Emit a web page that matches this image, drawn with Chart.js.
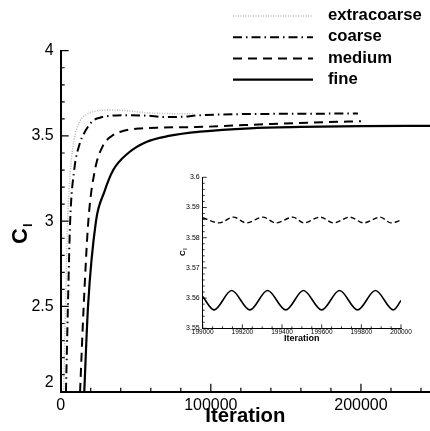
<!DOCTYPE html>
<html>
<head>
<meta charset="UTF-8">
<title>Cl convergence</title>
<script src="https://cdn.jsdelivr.net/npm/chart.js"></script>
<style>
  html, body { margin: 0; padding: 0; background: #fff; }
  #wrap { position: relative; width: 430px; height: 431px; }
  #main { position: absolute; left: 0; top: 0; }
  #inset { position: absolute; left: 170px; top: 170px; }
</style>
</head>
<body>
<div id="wrap">
  <canvas id="main" width="430" height="431"></canvas>
  <canvas id="inset" width="255" height="175"></canvas>
</div>
<script>
// main plot, Cl against iteration for each grid
const extraIter  = [2000, 3200, 4600, 6500, 9000, 12500, 17000, 22000, 28000, 35000, 44000, 57000, 72000, 88000];
const extraCl    = [2.0, 2.5, 3.0, 3.3, 3.48, 3.58, 3.625, 3.643, 3.651, 3.652, 3.648, 3.636, 3.631, 3.63];
const coarseIter = [3500, 4800, 6300, 9000, 12500, 16500, 21000, 26000, 33000, 43000, 57000, 70000, 80000, 91000, 120000, 160000, 198000];
const coarseCl   = [2.0, 2.5, 3.0, 3.3, 3.45, 3.53, 3.585, 3.607, 3.618, 3.622, 3.619, 3.611, 3.612, 3.62, 3.628, 3.63, 3.632];
const mediumIter = [12900, 15300, 18400, 22800, 28000, 34000, 42000, 52000, 65000, 90000, 115000, 137000, 165000, 200000];
const mediumCl   = [2.0, 2.5, 3.0, 3.3, 3.44, 3.5, 3.53, 3.543, 3.549, 3.552, 3.561, 3.569, 3.578, 3.586];
const fineIter   = [15700, 18200, 23500, 29000, 35000, 45000, 57000, 72000, 93000, 126000, 160000, 200000, 246000];
const fineCl     = [2.0, 2.5, 3.0, 3.17, 3.3, 3.4, 3.465, 3.5, 3.525, 3.545, 3.553, 3.558, 3.559];
const mainXTicks = [0, 100000, 200000];
const mainYTicks = [2, 2.5, 3, 3.5, 4];

// inset, last 1000 iterations (peaks and troughs)
const insetFineIter = [199000, 199057, 199146, 199238, 199327, 199419, 199508, 199600, 199690, 199781, 199871, 199962, 200000];
const insetFineCl   = [3.5605, 3.5561, 3.5625, 3.5561, 3.5625, 3.5561, 3.5625, 3.5561, 3.5625, 3.5561, 3.5625, 3.5561, 3.5592];
const insetMedIter  = [199000, 199083, 199154, 199221, 199303, 199369, 199455, 199510, 199592, 199660, 199741, 199812, 199895, 199950, 200000];
const insetMedCl    = [3.5866, 3.5849, 3.5868, 3.5849, 3.5868, 3.5849, 3.5868, 3.5849, 3.5868, 3.5849, 3.5868, 3.5849, 3.5868, 3.5849, 3.5858];
const insetXTicks = [199000, 199200, 199400, 199600, 199800, 200000];
const insetYTicks = [3.55, 3.56, 3.57, 3.58, 3.59, 3.6];

const gridNames = ['extracoarse', 'coarse', 'medium', 'fine'];

const FONT = "'Liberation Sans', Arial, Helvetica, sans-serif";
const pts = (xs, ys) => xs.map((x, i) => ({x: x, y: ys[i]}));
const setTicks = vals => s => { s.ticks = vals.map(v => ({value: v})); };

// tecplot style ticks pointing into the plot
const inwardTicks = {
  id: 'inwardTicks',
  afterDraw(chart, args, o) {
    const {ctx, chartArea: a, scales: {x, y}} = chart;
    ctx.save();
    ctx.strokeStyle = '#000';
    ctx.lineWidth = o.width;
    ctx.beginPath();
    let n = Math.floor((x.max - x.min) / o.xMinor + 1e-6);
    for (let i = 0; i <= n; i++) {
      const px = x.getPixelForValue(x.min + i * o.xMinor);
      const len = i % o.xRatio === 0 ? o.major : o.minor;
      ctx.moveTo(px, a.bottom);
      ctx.lineTo(px, a.bottom - len);
    }
    n = Math.round((y.max - y.min) / o.yMinor);
    for (let i = 0; i <= n; i++) {
      const py = y.getPixelForValue(y.min + i * o.yMinor);
      const len = i % o.yRatio === 0 ? o.major : o.minor;
      ctx.moveTo(a.left, py);
      ctx.lineTo(a.left + len, py);
    }
    ctx.stroke();
    ctx.restore();
  }
};

// C with subscript l, rotated
const clTitle = {
  id: 'clTitle',
  afterDraw(chart, args, o) {
    const ctx = chart.ctx;
    ctx.save();
    ctx.translate(o.x, o.y);
    ctx.rotate(-Math.PI / 2);
    ctx.fillStyle = '#000';
    ctx.textBaseline = 'middle';
    ctx.textAlign = 'center';
    ctx.font = 'bold ' + o.size + 'px ' + FONT;
    const w = ctx.measureText('C').width;
    ctx.fillText('C', 0, 0);
    ctx.textAlign = 'left';
    ctx.font = 'bold ' + o.sub + 'px ' + FONT;
    ctx.fillText('l', w / 2 + o.size * 0.05, o.size * 0.35);
    ctx.restore();
  }
};

// legend drawn over the top right corner
const lineLegend = {
  id: 'lineLegend',
  afterDraw(chart, args, o) {
    const ctx = chart.ctx;
    ctx.save();
    chart.data.datasets.forEach((ds, i) => {
      const y = o.y0 + i * o.dy;
      ctx.strokeStyle = ds.borderColor;
      ctx.lineWidth = ds.borderWidth;
      ctx.setLineDash(ds.borderDash || []);
      ctx.beginPath();
      ctx.moveTo(o.x1, y + 0.5);
      ctx.lineTo(o.x2, y + 0.5);
      ctx.stroke();
      ctx.setLineDash([]);
      ctx.fillStyle = '#000';
      ctx.font = 'bold ' + o.size + 'px ' + FONT;
      ctx.textBaseline = 'middle';
      ctx.textAlign = 'left';
      ctx.fillText(ds.label, o.textX, y);
    });
    ctx.restore();
  }
};

new Chart(document.getElementById('main'), {
  type: 'line',
  data: {
    datasets: [
      { label: gridNames[0], data: pts(extraIter, extraCl), borderColor: '#b8b8b8', borderWidth: 1.5, borderDash: [1, 1.5] },
      { label: gridNames[1], data: pts(coarseIter, coarseCl), borderColor: '#000', borderWidth: 2, borderDash: [9, 4, 1.5, 4] },
      { label: gridNames[2], data: pts(mediumIter, mediumCl), borderColor: '#000', borderWidth: 2, borderDash: [9, 6] },
      { label: gridNames[3], data: pts(fineIter, fineCl), borderColor: '#000', borderWidth: 2.2 }
    ]
  },
  options: {
    responsive: false,
    animation: false,
    elements: {
      point: { radius: 0 },
      line: { cubicInterpolationMode: 'monotone', fill: false }
    },
    layout: { padding: { left: 0, right: 0, top: 50.7, bottom: 0 } },
    plugins: {
      legend: { display: false },
      tooltip: { enabled: false },
      inwardTicks: { width: 1.2, major: 8, minor: 4, xMinor: 20000, xRatio: 5, yMinor: 0.1, yRatio: 5 },
      clTitle: { x: 21, y: 236, size: 22, sub: 13 },
      lineLegend: { x1: 233, x2: 313, textX: 328, y0: 15.5, dy: 21.2, size: 16.7 }
    },
    scales: {
      x: {
        type: 'linear', min: 0, max: 246000,
        grid: { display: false, drawTicks: false },
        border: { display: true, color: '#000', width: 2 },
        afterBuildTicks: setTicks(mainXTicks),
        ticks: {
          autoSkip: false, maxRotation: 0,
          color: '#000', padding: 4, font: { family: FONT, size: 16 },
          callback: v => String(v)
        },
        title: { display: true, text: 'Iteration', color: '#000', padding: { top: 0, bottom: 2 }, font: { family: FONT, size: 20.3, weight: 'bold' } },
        afterFit: s => { s.height = 39.3; s.paddingLeft = 0; s.paddingRight = 0; }
      },
      y: {
        type: 'linear', min: 2, max: 4,
        grid: { display: false, drawTicks: false },
        border: { display: true, color: '#000', width: 2 },
        afterBuildTicks: setTicks(mainYTicks),
        ticks: {
          color: '#000', padding: 7, font: { family: FONT, size: 16 },
          callback: v => (v === 2 ? ['2', ''] : String(v))
        },
        afterFit: s => { s.width = 60.7; s.paddingTop = 0; s.paddingBottom = 0; }
      }
    }
  },
  plugins: [inwardTicks, clTitle, lineLegend]
});

new Chart(document.getElementById('inset'), {
  type: 'line',
  data: {
    datasets: [
      { label: gridNames[2], data: pts(insetMedIter, insetMedCl), borderColor: '#000', borderWidth: 1.4, borderDash: [5, 3] },
      { label: gridNames[3], data: pts(insetFineIter, insetFineCl), borderColor: '#000', borderWidth: 1.6 }
    ]
  },
  options: {
    responsive: false,
    animation: false,
    elements: {
      point: { radius: 0 },
      line: { cubicInterpolationMode: 'monotone', fill: false }
    },
    layout: { padding: { left: 0, right: 24, top: 7.3, bottom: 0 } },
    plugins: {
      legend: { display: false },
      tooltip: { enabled: false },
      inwardTicks: { width: 0.8, major: 4, minor: 2, xMinor: 50, xRatio: 4, yMinor: 0.002, yRatio: 5 },
      clTitle: { x: 12.5, y: 83, size: 8, sub: 5 }
    },
    scales: {
      x: {
        type: 'linear', min: 199000, max: 200000,
        grid: { display: false, drawTicks: false },
        border: { display: true, color: '#000', width: 1 },
        afterBuildTicks: setTicks(insetXTicks),
        ticks: {
          autoSkip: false, maxRotation: 0, color: '#000', padding: 0,
          font: { family: FONT, size: 6.5 }, callback: v => String(v)
        },
        title: { display: true, text: 'Iteration', color: '#000', padding: { top: 0, bottom: 1 }, font: { family: FONT, size: 9, weight: 'bold' } },
        afterFit: s => { s.height = 16.7; s.paddingLeft = 0; s.paddingRight = 0; }
      },
      y: {
        type: 'linear', min: 3.55, max: 3.6,
        grid: { display: false, drawTicks: false },
        border: { display: true, color: '#000', width: 1 },
        afterBuildTicks: setTicks(insetYTicks),
        ticks: { color: '#000', padding: 3, font: { family: FONT, size: 7 }, callback: v => String(+v.toFixed(4)) },
        afterFit: s => { s.width = 32.7; s.paddingTop = 0; s.paddingBottom = 0; }
      }
    }
  },
  plugins: [inwardTicks, clTitle]
});
</script>
</body>
</html>
